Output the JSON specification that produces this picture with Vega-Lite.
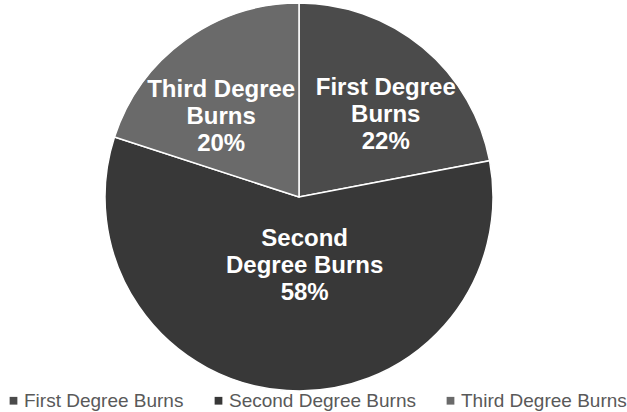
{
  "$schema": "https://vega.github.io/schema/vega-lite/v6.json",
  "width": 598,
  "height": 394,
  "padding": 0,
  "background": "white",
  "view": {"stroke": null},
  "data": {
    "values": [
      {"category": "First Degree Burns", "pct": 22, "label": "First Degree\nBurns\n22%"},
      {"category": "Second Degree Burns", "pct": 58, "label": "Second\nDegree Burns\n58%"},
      {"category": "Third Degree Burns", "pct": 20, "label": "Third Degree\nBurns\n20%"}
    ]
  },
  "encoding": {
    "theta": {"field": "pct", "type": "quantitative", "stack": true},
    "order": {"field": "category", "type": "ordinal", "sort": "ascending"}
  },
  "layer": [
    {
      "mark": {"type": "arc", "outerRadius": 194, "stroke": "white", "strokeWidth": 1.5},
      "encoding": {
        "color": {
          "field": "category",
          "type": "nominal",
          "scale": {"domain": ["First Degree Burns", "Second Degree Burns", "Third Degree Burns"], "range": ["#4b4b4b", "#383838", "#6a6a6a"]},
          "legend": {
            "title": null,
            "orient": "none",
            "direction": "horizontal",
            "legendX": 4,
            "legendY": 391,
            "symbolType": "square",
            "symbolSize": 60,
            "symbolStrokeWidth": 0,
            "labelFont": "Liberation Sans",
            "labelFontSize": 19,
            "labelColor": "#595959",
            "labelOffset": 1,
            "columnPadding": 25,
            "labelLimit": 300
          }
        }
      }
    },
    {
      "mark": {"type": "text", "radius": 122, "dx": 9, "dy": -15, "font": "Liberation Sans", "fontWeight": "bold", "fontSize": 24, "fill": "white", "lineBreak": "\n", "lineHeight": 27, "align": "center", "baseline": "middle"},
      "encoding": {
        "text": {"condition": {"test": "datum.category === 'First Degree Burns'", "field": "label"}, "value": ""}
      }
    },
    {
      "mark": {"type": "text", "radius": 69, "dx": 10, "dy": -27, "font": "Liberation Sans", "fontWeight": "bold", "fontSize": 24, "fill": "white", "lineBreak": "\n", "lineHeight": 27, "align": "center", "baseline": "middle"},
      "encoding": {
        "text": {"condition": {"test": "datum.category === 'Second Degree Burns'", "field": "label"}, "value": ""}
      }
    },
    {
      "mark": {"type": "text", "radius": 112, "dx": -12, "dy": -16, "font": "Liberation Sans", "fontWeight": "bold", "fontSize": 24, "fill": "white", "lineBreak": "\n", "lineHeight": 27, "align": "center", "baseline": "middle"},
      "encoding": {
        "text": {"condition": {"test": "datum.category === 'Third Degree Burns'", "field": "label"}, "value": ""}
      }
    }
  ]
}
